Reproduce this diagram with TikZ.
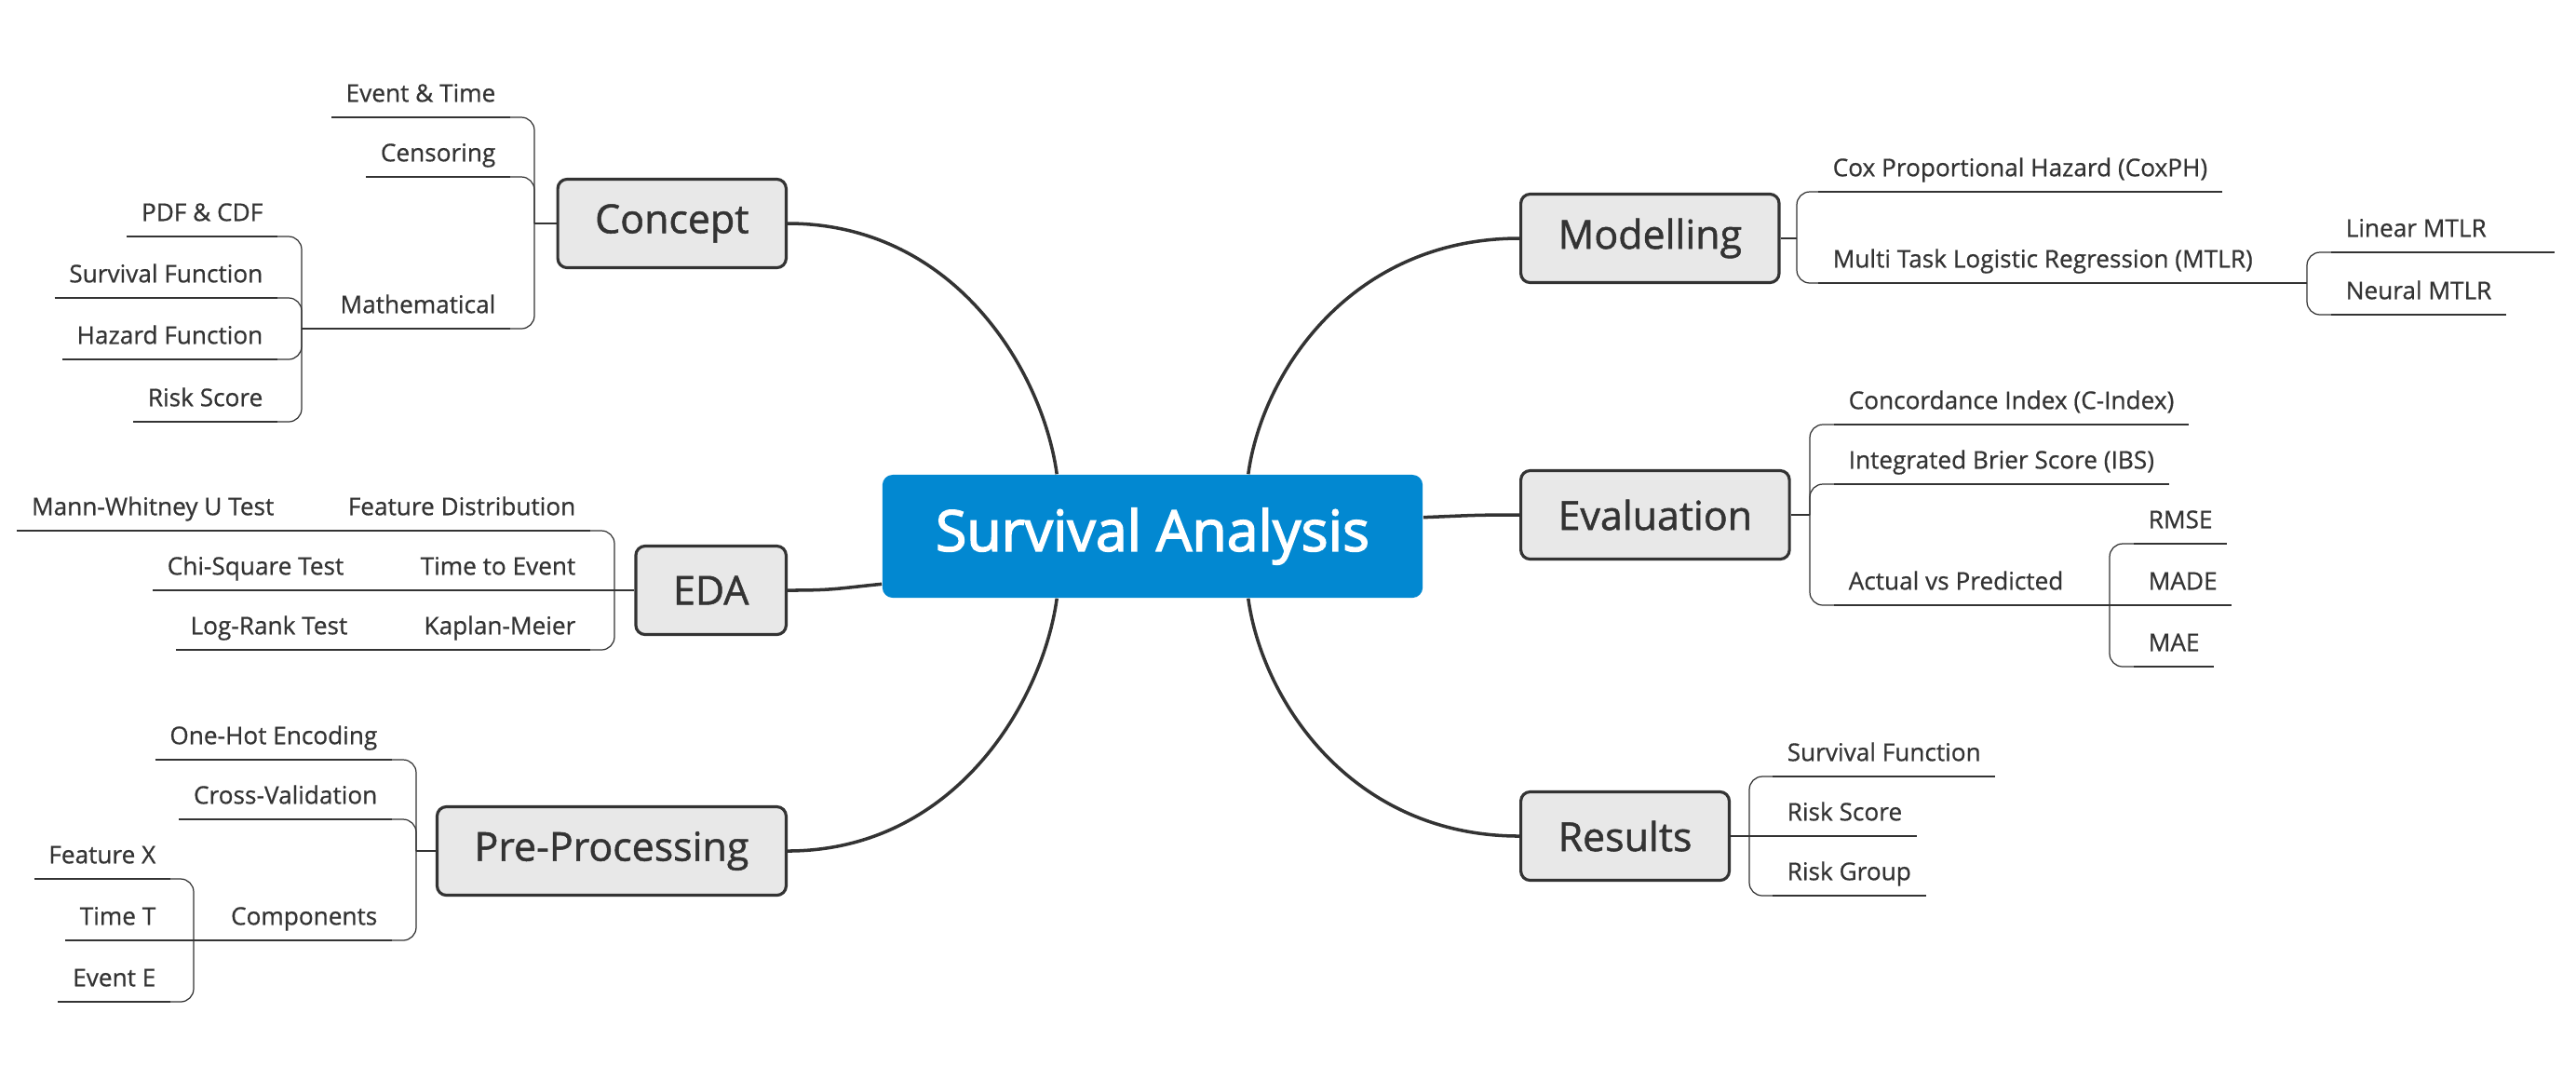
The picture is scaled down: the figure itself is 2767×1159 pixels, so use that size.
\documentclass[tikz,border=0pt]{standalone}
\usepackage{fontspec}
\setmainfont{Open Sans}
\newfontfamily\hubfont{Open Sans}[FakeBold=2.5]
\newfontfamily\topicfont{Open Sans}[FakeBold=1.2]
\newfontfamily\subfont{Open Sans}[FakeBold=0.6]
\usepackage{tikz}
\usetikzlibrary{positioning}
\usetikzlibrary{calc}

\definecolor{ink}{HTML}{333333}
\definecolor{hubblue}{HTML}{0288D1}
\definecolor{topicfill}{HTML}{E8E8E8}

\begin{document}
\begin{tikzpicture}[
    x=0.01cm, y=-0.01cm,
    % central topic and main topics
    hub/.style={rectangle, rounded corners=0.11cm, fill=hubblue, text=white, minimum width=5.8cm, minimum height=1.32cm, font=\hubfont\fontsize{17.3pt}{20pt}\selectfont},
    topic/.style={rectangle, rounded corners=0.1cm, draw=ink, line width=0.9pt, fill=topicfill, text=ink, minimum height=0.95cm, inner xsep=0.4cm, font=\topicfont\fontsize{12.2pt}{14pt}\selectfont},
    % sub topics sit on an underline
    lsub/.style={anchor=south east, inner xsep=0.15cm, inner ysep=0pt, text height=0.18cm, text depth=0.16cm, text=ink, font=\subfont\fontsize{7.45pt}{9pt}\selectfont},
    rsub/.style={lsub, anchor=south west},
    branch/.style={draw=ink, line width=1pt},
    stub/.style={draw=ink, line width=0.5pt},
    uline/.style={draw=ink, line width=0.6pt},
    brk/.style={draw=ink, line width=0.35pt, rounded corners=0.14cm},
]
\useasboundingbox (0,0) rectangle (2767,1159);

% =========================================================
% Central topic and main topics
% =========================================================
\node[hub] (sa) at (1238,576) {Survival Analysis};

\node[topic, anchor=east] (concept) at (846,240) {Concept};
\node[topic, anchor=east] (eda)     at (846,634) {EDA};
\node[topic, anchor=east] (prep)    at (846,914) {Pre-Processing};
\node[topic, anchor=west] (model)   at (1632,256) {Modelling};
\node[topic, anchor=west] (eval)    at (1632,553) {Evaluation};
\node[topic, anchor=west] (res)     at (1632,898) {Results};

\draw[branch] (sa.147) .. controls +(-15,-110) and +(180,0) .. (concept.east);
\draw[branch] (sa.190) .. controls +(-50,5) and +(50,0) .. (eda.east);
\draw[branch] (sa.213) .. controls +(-15,110) and +(180,0) .. (prep.east);
\draw[branch] (sa.33) .. controls +(15,-110) and +(-180,0) .. (model.west);
\draw[branch] (sa.4) .. controls +(50,-2) and +(-50,0) .. (eval.west);
\draw[branch] (sa.327) .. controls +(15,110) and +(-180,0) .. (res.west);

% =========================================================
% Concept
% =========================================================
\node[lsub] (et)   at (548,126) {Event \& Time};
\node[lsub] (cens) at (548,190) {Censoring};
\node[lsub] (math) at (548,353) {Mathematical};

\node[lsub] (pdf)  at (298,254) {PDF \& CDF};
\node[lsub] (surv) at (298,320) {Survival Function};
\node[lsub] (haz)  at (298,386) {Hazard Function};
\node[lsub] (risk) at (298,453) {Risk Score};

\coordinate (conceptb) at (574,240);
\coordinate (mathb)    at (324,353);

\draw[stub] (concept.west) -- (conceptb);
\draw[brk] (conceptb) |- (et.south east);
\draw[brk] (conceptb) |- (cens.south east);
\draw[brk] (conceptb) |- (math.south east);

\draw[brk] (math.south west) -- (mathb);
\draw[brk] (mathb) |- (pdf.south east);
\draw[brk] (mathb) |- (surv.south east);
\draw[brk] (mathb) |- (haz.south east);
\draw[brk] (mathb) |- (risk.south east);

% =========================================================
% EDA (each item has one test)
% =========================================================
\node[lsub] (fd)  at (634,570) {Feature Distribution};
\node[lsub] (tte) at (634,634) {Time to Event};
\node[lsub] (km)  at (634,698) {Kaplan-Meier};

\node[lsub] (mw)  at (310,570) {Mann-Whitney U Test};
\node[lsub] (chi) at (385,634) {Chi-Square Test};
\node[lsub] (lr)  at (389,698) {Log-Rank Test};

\coordinate (edab) at (660,634);

\draw[stub] (eda.west) -- (edab);
\draw[brk] (edab) |- (fd.south east);
\draw[brk] (edab) -- (tte.south east);
\draw[brk] (edab) |- (km.south east);

\draw[brk] (fd.south west) -- (mw.south east);
\draw[brk] (tte.south west) -- (chi.south east);
\draw[brk] (km.south west) -- (lr.south east);

% =========================================================
% Pre-Processing
% =========================================================
\node[lsub] (ohe)  at (421,816) {One-Hot Encoding};
\node[lsub] (cv)   at (421,880) {Cross-Validation};
\node[lsub] (comp) at (421,1010) {Components};

\node[lsub] (fx) at (183,944) {Feature X};
\node[lsub] (tt) at (183,1010) {Time T};
\node[lsub] (ee) at (183,1076) {Event E};

\coordinate (prepb) at (447,914);
\coordinate (compb) at (208,1010);

\draw[stub] (prep.west) -- (prepb);
\draw[brk] (prepb) |- (ohe.south east);
\draw[brk] (prepb) |- (cv.south east);
\draw[brk] (prepb) |- (comp.south east);

\draw[brk] (comp.south west) -- (compb);
\draw[brk] (compb) |- (fx.south east);
\draw[brk] (compb) -- (tt.south east);
\draw[brk] (compb) |- (ee.south east);

% =========================================================
% Modelling
% =========================================================
\node[rsub] (cox)  at (1953,206) {Cox Proportional Hazard (CoxPH)};
\node[rsub] (mtlr) at (1953,304) {Multi Task Logistic Regression (MTLR)};

\node[rsub] (lin) at (2504,271) {Linear MTLR};
\node[rsub] (neu) at (2504,338) {Neural MTLR};

\coordinate (modelb) at (1930,256);
\coordinate (mtlrb)  at (2478,304);

\draw[stub] (model.east) -- (modelb);
\draw[brk] (modelb) |- (cox.south west);
\draw[brk] (modelb) |- (mtlr.south west);

\draw[brk] (mtlr.south east) -- (mtlrb);
\draw[brk] (mtlrb) |- (lin.south west);
\draw[brk] (mtlrb) |- (neu.south west);

% =========================================================
% Evaluation
% =========================================================
\node[rsub] (ci)  at (1970,456) {Concordance Index (C-Index)};
\node[rsub] (ibs) at (1970,520) {Integrated Brier Score (IBS)};
\node[rsub] (avp) at (1970,650) {Actual vs Predicted};

\node[rsub] (rmse) at (2292,584) {RMSE};
\node[rsub] (made) at (2292,650) {MADE};
\node[rsub] (mae)  at (2292,716) {MAE};

\coordinate (evalb) at (1944,553);
\coordinate (avpb)  at (2266,650);

\draw[stub] (eval.east) -- (evalb);
\draw[brk] (evalb) |- (ci.south west);
\draw[brk] (evalb) |- (ibs.south west);
\draw[brk] (evalb) |- (avp.south west);

\draw[brk] (avp.south east) -- (avpb);
\draw[brk] (avpb) |- (rmse.south west);
\draw[brk] (avpb) -- (made.south west);
\draw[brk] (avpb) |- (mae.south west);

% =========================================================
% Results
% =========================================================
\node[rsub] (rsf) at (1904,834) {Survival Function};
\node[rsub] (rrs) at (1904,898) {Risk Score};
\node[rsub] (rrg) at (1904,962) {Risk Group};

\coordinate (resb) at (1879,898);

\draw[stub] (res.east) -- (resb);
\draw[brk] (resb) |- (rsf.south west);
\draw[brk] (resb) -- (rrs.south west);
\draw[brk] (resb) |- (rrg.south west);

% underlines below every sub topic
\foreach \n in {et,cens,math,pdf,surv,haz,risk,fd,tte,km,mw,chi,lr,ohe,cv,comp,fx,tt,ee,cox,mtlr,neu,ci,ibs,avp,rmse,made,mae,rsf,rrs,rrg}
    \draw[uline] (\n.south west) -- (\n.south east);
\draw[uline] (lin.south west) -- ++(240,0);

\end{tikzpicture}
\end{document}
